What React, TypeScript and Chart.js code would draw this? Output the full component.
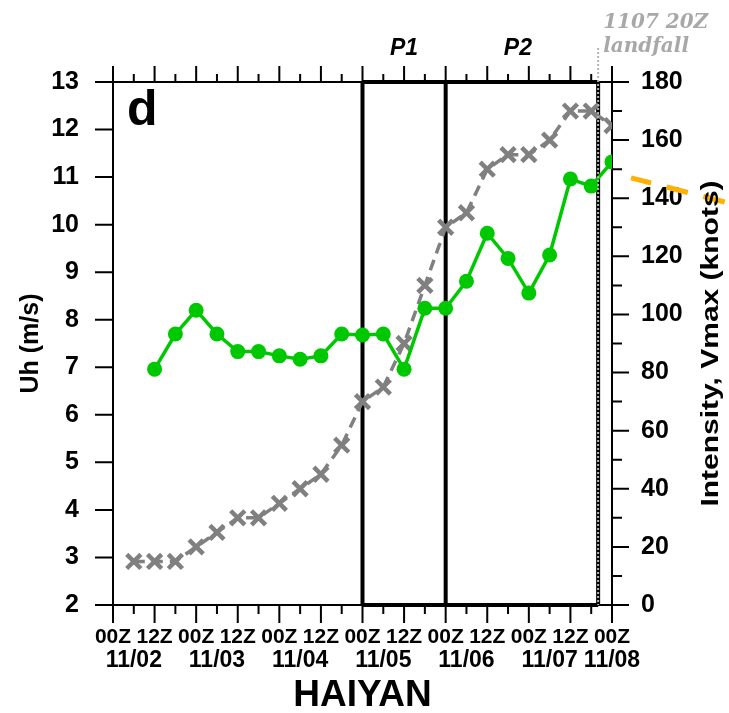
import React, { useEffect, useRef } from 'react';
import { Chart, registerables } from 'chart.js';
Chart.register(...registerables);

// Time axis: hours since 11/02 00Z
const uhHours = [12, 18, 24, 30, 36, 42, 48, 54, 60, 66, 72, 78, 84, 90, 96, 102, 108, 114, 120, 126, 132, 138, 144];
const uhValues = [6.96, 7.7, 8.2, 7.7, 7.33, 7.33, 7.24, 7.17, 7.24, 7.7, 7.68, 7.7, 6.96, 8.24, 8.24, 8.81, 9.82, 9.29, 8.56, 9.36, 10.96, 10.81, 11.32];
const vmaxHours = [6, 12, 18, 24, 30, 36, 42, 48, 54, 60, 66, 72, 78, 84, 90, 96, 102, 108, 114, 120, 126, 132, 138, 144];
const vmaxValues = [15, 15, 15, 20, 25, 30, 30, 35, 40, 45, 55, 70, 75, 90, 110, 130, 135, 150, 155, 155, 160, 170, 170, 165];
const orangeHours = [176.5, 149.5];
const orangeValues = [138.7, 147];
const dateLabels = ['11/02', '11/03', '11/04', '11/05', '11/06', '11/07', '11/08'];
const hourLabelByHour: Record<number, string> = { 0: '00Z', 12: '12Z' };
const periodBounds = [72, 96, 140]; // P1 start, P2 start, landfall
const periodNames = ['P1', 'P2'];
const landfallLabel = ['1107 20Z', 'landfall'];
const panelLetter = 'd';
const leftTitle = 'Uh (m/s)';
const rightTitle = 'Intensity, Vmax (knots)';
const bottomTitle = 'HAIYAN';

const SANS = '"Liberation Sans", Arial, Helvetica, sans-serif';
const NARROW = '"Liberation Sans Narrow", "Liberation Sans", Arial, sans-serif';

const framePlugin = {
  id: 'framePlugin',
  beforeDatasetsDraw(chart: any) {
    const { ctx, chartArea: a, scales } = chart;
    const x = scales.x, y = scales.y, y2 = scales.y2;
    ctx.save();
    ctx.strokeStyle = '#000';
    ctx.lineWidth = 2;
    ctx.strokeRect(a.left, a.top, a.right - a.left, a.bottom - a.top);
    ctx.beginPath();
    x.ticks.forEach((t: any) => {
      const px = x.getPixelForValue(t.value);
      const major = t.value % 12 === 0;
      ctx.moveTo(px, a.bottom);
      ctx.lineTo(px, a.bottom + (major ? 18 : 9));
      ctx.moveTo(px, a.top);
      ctx.lineTo(px, a.top - (major ? 16 : 8));
    });
    y.ticks.forEach((t: any) => {
      const py = y.getPixelForValue(t.value);
      ctx.moveTo(a.left - 18, py);
      ctx.lineTo(a.left, py);
    });
    y2.ticks.forEach((t: any) => {
      const py = y2.getPixelForValue(t.value);
      const major = t.value % 20 === 0;
      ctx.moveTo(a.right, py);
      ctx.lineTo(a.right + (major ? 17 : 10), py);
    });
    ctx.stroke();
    const p0 = x.getPixelForValue(periodBounds[0]);
    const p1 = x.getPixelForValue(periodBounds[1]);
    const p2 = x.getPixelForValue(periodBounds[2]);
    ctx.lineWidth = 4;
    ctx.beginPath();
    ctx.moveTo(p0, a.top); ctx.lineTo(p2, a.top);
    ctx.moveTo(p0, a.bottom); ctx.lineTo(p2, a.bottom);
    ctx.moveTo(p0, a.top); ctx.lineTo(p0, a.bottom);
    ctx.moveTo(p1, a.top); ctx.lineTo(p1, a.bottom);
    ctx.moveTo(p2, a.top); ctx.lineTo(p2, a.bottom);
    ctx.stroke();
    ctx.restore();
  },
  afterDatasetsDraw(chart: any) {
    const { ctx, chartArea: a, scales } = chart;
    const x = scales.x;
    const p0 = x.getPixelForValue(periodBounds[0]);
    const p1 = x.getPixelForValue(periodBounds[1]);
    const p2 = x.getPixelForValue(periodBounds[2]);
    ctx.save();
    // landfall dotted line
    ctx.strokeStyle = '#b4b4b4';
    ctx.lineWidth = 2;
    ctx.setLineDash([2, 2]);
    ctx.beginPath();
    ctx.moveTo(p2, a.top - 34);
    ctx.lineTo(p2, a.bottom);
    ctx.stroke();
    ctx.setLineDash([]);
    // period labels
    ctx.fillStyle = '#000';
    ctx.font = `italic bold 23px ${SANS}`;
    ctx.textAlign = 'center';
    ctx.textBaseline = 'alphabetic';
    ctx.fillText(periodNames[0], (p0 + p1) / 2, a.top - 27);
    ctx.fillText(periodNames[1], (p1 + p2) / 2 - 4, a.top - 27);
    // landfall label
    ctx.fillStyle = '#a8a8a8';
    ctx.font = 'italic bold 20px "DejaVu Serif", "Liberation Serif", serif';
    ctx.textAlign = 'left';
    ctx.fillText(landfallLabel[0], p2 + 5, a.top - 54);
    ctx.fillText(landfallLabel[1], p2 + 5, a.top - 30);
    // panel letter
    ctx.fillStyle = '#000';
    ctx.font = `bold 50px ${SANS}`;
    ctx.fillText(panelLetter, a.left + 14, a.top + 43);
    // right axis title (reads bottom to top)
    ctx.translate(a.right + 99, (a.top + a.bottom) / 2);
    ctx.scale(0.8, 1);
    ctx.rotate(-Math.PI / 2);
    ctx.font = `bold 30px ${SANS}`;
    ctx.textAlign = 'center';
    ctx.textBaseline = 'middle';
    ctx.fillText(rightTitle, 0, 0);
    ctx.restore();
  },
};

export default function App() {
  const ref = useRef<HTMLCanvasElement>(null);
  useEffect(() => {
    if (!ref.current) return;
    const chart = new Chart(ref.current, {
      type: 'line',
      data: {
        datasets: [
          {
            label: 'Uh',
            data: uhHours.map((h, i) => ({ x: h, y: uhValues[i] })),
            xAxisID: 'x',
            yAxisID: 'y',
            borderColor: '#00c800',
            backgroundColor: '#00c800',
            borderWidth: 3.5,
            pointRadius: 7.5,
            pointBorderWidth: 0,
            pointBackgroundColor: '#00c800',
            tension: 0,
          },
          {
            label: 'Vmax',
            data: vmaxHours.map((h, i) => ({ x: h, y: vmaxValues[i] })),
            xAxisID: 'x',
            yAxisID: 'y2',
            borderColor: '#808080',
            borderWidth: 3.5,
            borderDash: [11, 7],
            pointStyle: 'crossRot',
            pointRadius: 10,
            pointBorderWidth: 4.5,
            pointBorderColor: '#808080',
            tension: 0,
          },
          {
            label: 'other',
            data: orangeHours.map((h, i) => ({ x: h, y: orangeValues[i] })),
            xAxisID: 'x',
            yAxisID: 'y2',
            borderColor: '#ffb000',
            borderWidth: 5,
            borderDash: [22, 16],
            pointRadius: 0,
            clip: false as any,
            tension: 0,
          },
        ],
      },
      options: {
        animation: false,
        responsive: false,
        devicePixelRatio: 1,
        layout: { padding: { top: 82, left: 0, right: 0, bottom: 0 } },
        plugins: { legend: { display: false }, tooltip: { enabled: false } },
        scales: {
          x: {
            type: 'linear',
            position: 'bottom',
            weight: 0,
            min: 0,
            max: 144,
            grid: { display: false, drawTicks: false },
            border: { display: false },
            ticks: {
              stepSize: 6,
              autoSkip: false,
              maxRotation: 0,
              minRotation: 0,
              padding: 22,
              color: '#000',
              font: { family: NARROW, size: 21, weight: 'bold', lineHeight: '20px' },
              callback: (v: any) => hourLabelByHour[Number(v) % 24] ?? '',
            },
            afterFit: (s: any) => { s.height = 44; },
          },
          xd: {
            type: 'linear',
            position: 'bottom',
            weight: 1,
            min: 0,
            max: 144,
            grid: { display: false, drawTicks: false },
            border: { display: false },
            ticks: {
              stepSize: 6,
              autoSkip: false,
              maxRotation: 0,
              minRotation: 0,
              padding: 2,
              color: '#000',
              font: { family: SANS, size: 23, weight: 'bold', lineHeight: '20px' },
              callback: (v: any) => {
                const n = Number(v);
                if (n === 144) return dateLabels[6];
                if (n % 24 === 6) return dateLabels[Math.floor(n / 24)];
                return '';
              },
            },
            title: {
              display: true,
              text: bottomTitle,
              color: '#000',
              font: { family: SANS, size: 37, weight: 'bold', lineHeight: '34px' },
              padding: { top: 0, bottom: 0 },
            },
            afterFit: (s: any) => { s.height = 64; },
          },
          y: {
            type: 'linear',
            position: 'left',
            min: 2,
            max: 13,
            grid: { display: false, drawTicks: false },
            border: { display: false },
            ticks: {
              stepSize: 1,
              autoSkip: false,
              padding: 34,
              color: '#000',
              font: { family: SANS, size: 25, weight: 'bold' },
            },
            title: {
              display: true,
              text: leftTitle,
              color: '#000',
              font: { family: SANS, size: 25, weight: 'bold', lineHeight: '24px' },
              padding: { top: 19, bottom: 0 },
            },
            afterFit: (s: any) => { s.width = 113; },
          },
          y2: {
            type: 'linear',
            position: 'right',
            min: 0,
            max: 180,
            grid: { display: false, drawTicks: false },
            border: { display: false },
            ticks: {
              stepSize: 10,
              autoSkip: false,
              padding: 29,
              color: '#000',
              font: { family: SANS, size: 25, weight: 'bold' },
              callback: (v: any) => (Number(v) % 20 === 0 ? String(v) : ''),
            },
            afterFit: (s: any) => { s.width = 117; },
          },
        },
      } as any,
      plugins: [framePlugin],
    });
    return () => chart.destroy();
  }, []);
  return (
    <div style={{ position: 'fixed', left: 0, top: 0, width: 729, height: 713, background: '#fff' }}>
      <canvas ref={ref} width={729} height={713} style={{ display: 'block', width: 729, height: 713 }} />
    </div>
  );
}
